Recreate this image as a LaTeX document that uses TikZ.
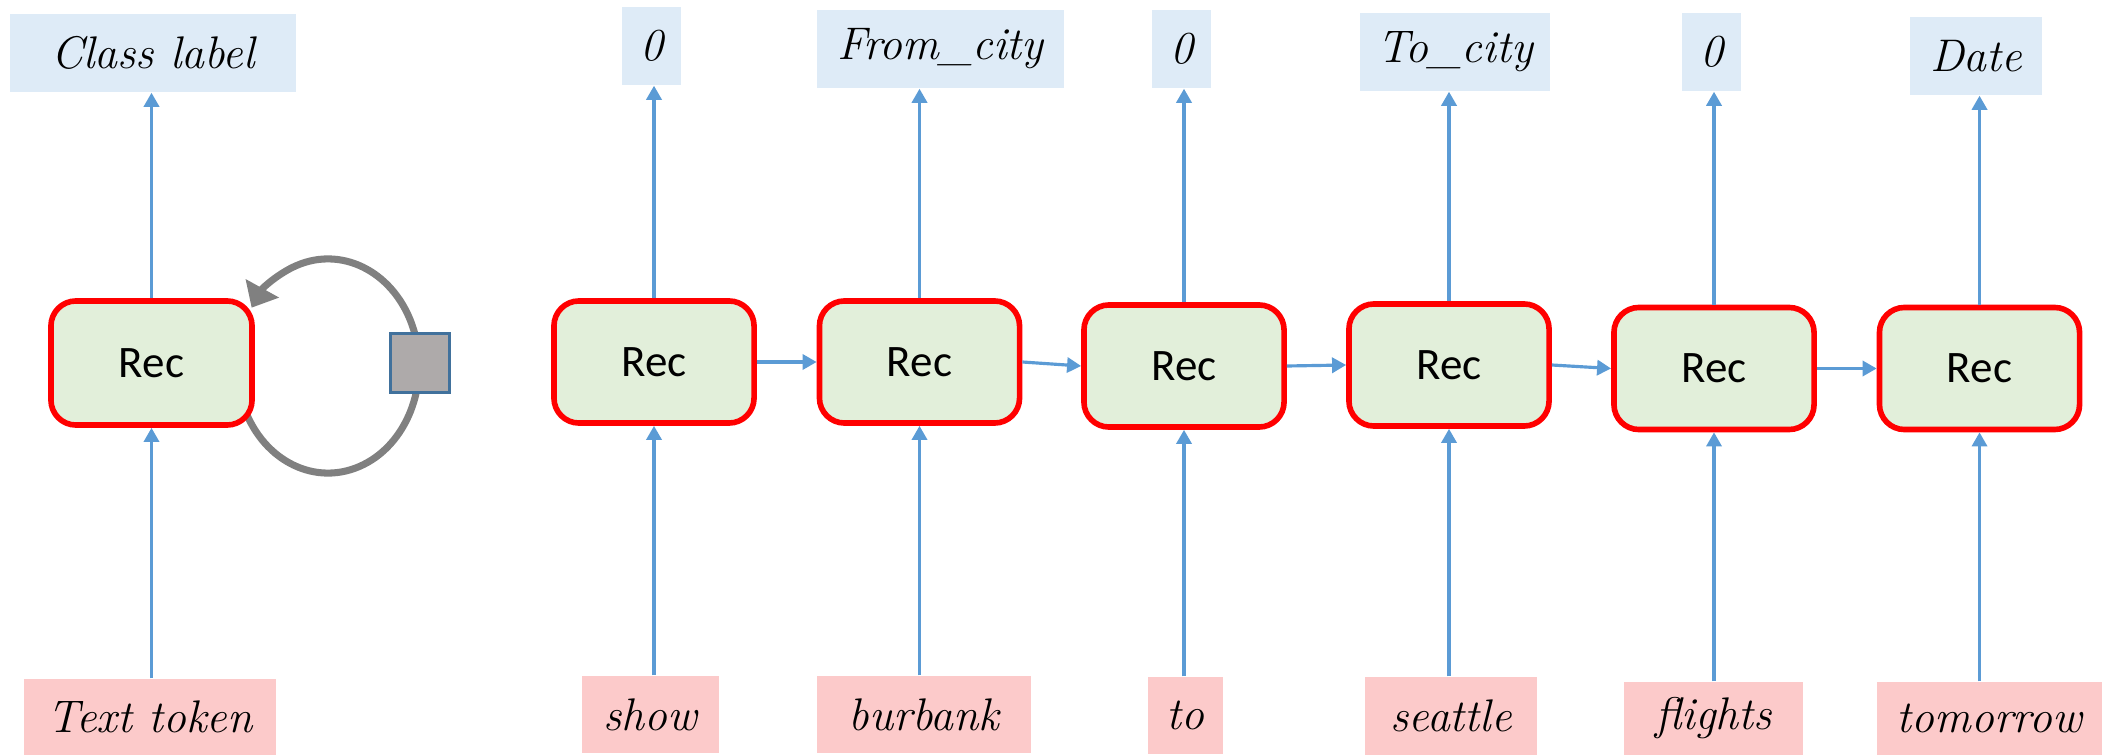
\documentclass[tikz,border=0pt]{standalone}
\usepackage{fontspec}
\newfontfamily\recfont{Carlito}
\usetikzlibrary{arrows.meta}
\definecolor{lblblue}{HTML}{DEEBF7}
\definecolor{lblpink}{HTML}{FCCACA}
\definecolor{recgreen}{HTML}{E2EFDA}
\definecolor{arrblue}{HTML}{5B9BD5}
\definecolor{loopgray}{HTML}{808080}
\definecolor{sqgray}{HTML}{AEAAAA}
\definecolor{sqedge}{HTML}{41719C}
\begin{document}
\begin{tikzpicture}[x=0.01cm,y=-0.01cm,
  recbox/.style={draw=red, line width=1.6pt, fill=recgreen, rounded corners=0.25cm,
    minimum width=2cm, minimum height=1.22cm, inner sep=0pt,
    font=\recfont\fontsize{12.8}{14}\selectfont},
  outlbl/.style={fill=lblblue, inner sep=0pt, minimum height=0.78cm,
    font=\fontsize{13}{15}\selectfont\itshape},
  inlbl/.style={fill=lblpink, inner sep=0pt, minimum height=0.77cm,
    font=\fontsize{13}{15}\selectfont\itshape},
  flow/.style={draw=arrblue, line width=0.9pt, -{Triangle[length=4pt,width=4.3pt]}},
  loopline/.style={draw=loopgray, line width=2pt, -{Triangle[length=6.3pt,width=10.5pt]}},
  delaysq/.style={draw=sqedge, fill=sqgray, line width=0.6pt, minimum size=0.59cm, inner sep=0pt}
]
\useasboundingbox (0,0) rectangle (2104,755);

% ---- left: folded recurrent unit ----
\draw[loopline] (328,366) ++(200:0.91cm and 1.07cm)
  arc[start angle=200, end angle=507, x radius=0.91cm, y radius=1.07cm];
\node[delaysq] (sq) at (420,363) {};
\node[recbox, minimum width=2.01cm, minimum height=1.24cm] (r0) at (151.5,363) {Rec};
\node[outlbl, minimum width=2.86cm] (cl) at (153,53) {Class label};
\node[inlbl, minimum width=2.51cm, minimum height=0.76cm] (tt) at (150,717) {Text token};
\draw[flow] (r0.north) -- (r0.north |- cl.south);
\draw[flow] (r0.south |- tt.north) -- (r0.south);

% ---- right: unrolled chain ----
\node[recbox] (b1) at (654,362) {Rec};
\node[recbox] (b2) at (919.5,362) {Rec};
\node[recbox] (b3) at (1184,366) {Rec};
\node[recbox] (b4) at (1449,365) {Rec};
\node[recbox] (b5) at (1714,368.5) {Rec};
\node[recbox] (b6) at (1979.5,368.5) {Rec};

\node[outlbl, minimum width=0.59cm] (o1) at (651.5,46) {0};
\node[outlbl, minimum width=2.47cm] (o2) at (940.5,49) {From\_city};
\node[outlbl, minimum width=0.59cm] (o3) at (1181.5,49) {0};
\node[outlbl, minimum width=1.90cm] (o4) at (1455,52) {To\_city};
\node[outlbl, minimum width=0.59cm] (o5) at (1711.5,52) {0};
\node[outlbl, minimum width=1.32cm] (o6) at (1976,56) {Date};

\node[inlbl, minimum width=1.37cm] (i1) at (650.5,714.5) {show};
\node[inlbl, minimum width=2.14cm] (i2) at (924,714.5) {burbank};
\node[inlbl, minimum width=0.75cm] (i3) at (1185,715.5) {to};
\node[inlbl, minimum width=1.72cm, minimum height=0.78cm] (i4) at (1451,716) {seattle};
\node[inlbl, minimum width=1.79cm, minimum height=0.73cm] (i5) at (1713.5,718.5) {flights};
\node[inlbl, minimum width=2.25cm, minimum height=0.73cm] (i6) at (1989.5,718.5) {tomorrow};

\foreach \k in {1,...,6}{
  \draw[flow] (b\k.north) -- (b\k.north |- o\k.south);
  \draw[flow] (b\k.south |- i\k.north) -- (b\k.south);
}
\draw[flow] (b1.east) -- (b2.west);
\draw[flow] (b2.east) -- (b3.west);
\draw[flow] (b3.east) -- (b4.west);
\draw[flow] (b4.east) -- (b5.west);
\draw[flow] (b5.east) -- (b6.west);
\end{tikzpicture}
\end{document}
